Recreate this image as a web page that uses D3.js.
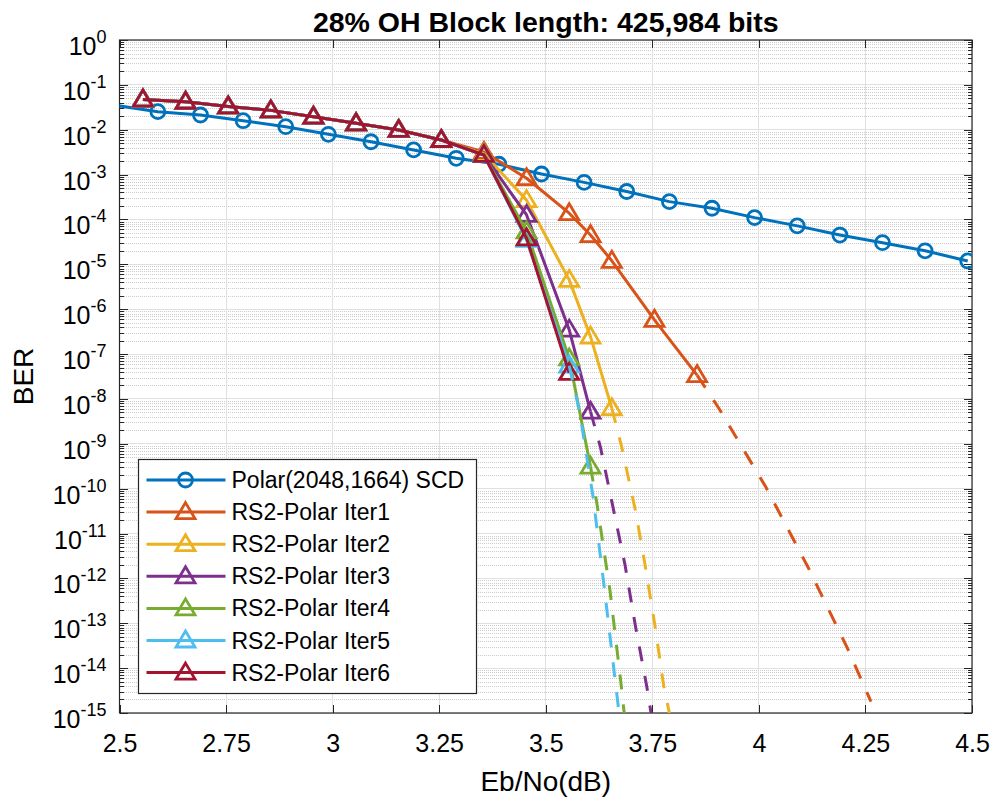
<!DOCTYPE html>
<html>
<meta charset="utf-8">
<style>

body {
  margin: 0;
  background: #fff;
}

svg text {
  font-family: "Liberation Sans", Arial, sans-serif;
  fill: #000;
}

.grid-major line {
  stroke: #e0e0e0;
  stroke-width: 1;
  shape-rendering: crispEdges;
}

.grid-minor line {
  stroke: #cccccc;
  stroke-width: 1;
  stroke-dasharray: 1,1;
  shape-rendering: crispEdges;
}

.axis path.domain {
  display: none;
}

.axis line {
  stroke: #262626;
  shape-rendering: crispEdges;
}

path.line {
  fill: none;
  stroke-width: 3;
  stroke-linejoin: round;
}

path.dash {
  fill: none;
  stroke-width: 3;
  stroke-dasharray: 15,15;
}

.marker {
  fill: none;
  stroke-width: 2.8;
}

</style>
<body>
<div id="chart"></div>

<script src="https://d3js.org/d3.v7.min.js"></script>
<script>

// Polar(2048,1664) SCD
var ebnoPolar = [2.49, 2.59, 2.69, 2.79, 2.89, 2.99, 3.09, 3.19, 3.29, 3.39, 3.49,
    3.59, 3.69, 3.79, 3.89, 3.99, 4.09, 4.19, 4.29, 4.39, 4.49];
var berPolar = [3.5e-2, 2.53e-2, 2.13e-2, 1.59e-2, 1.17e-2, 7.9e-3, 5.4e-3, 3.55e-3, 2.31e-3, 1.7e-3, 1.03e-3,
    6.7e-4, 4.2e-4, 2.5e-4, 1.78e-4, 1.1e-4, 7.2e-5, 4.5e-5, 3.04e-5, 2.0e-5, 1.19e-5];

// RS2-Polar, simulated points (all iterations share the same Eb/No grid)
var ebnoRS = [2.555, 2.655, 2.755, 2.855, 2.955, 3.055, 3.155, 3.255, 3.355,
    3.455, 3.555, 3.605, 3.655, 3.755, 3.855];
var berIter1 = [4.7e-2, 4.2e-2, 3.3e-2, 2.7e-2, 1.95e-2, 1.39e-2, 9.9e-3, 5.9e-3, 3.2e-3,
    8.3e-4, 1.38e-4, 4.5e-5, 1.2e-5, 5.8e-7, 3.4e-8];
var berIter2 = [4.7e-2, 4.2e-2, 3.3e-2, 2.7e-2, 1.95e-2, 1.39e-2, 9.9e-3, 5.9e-3, 2.9e-3,
    2.7e-4, 4.5e-6, 2.45e-7, 6.2e-9];
var berIter3 = [4.7e-2, 4.2e-2, 3.3e-2, 2.7e-2, 1.95e-2, 1.39e-2, 9.9e-3, 5.9e-3, 2.74e-3,
    1.26e-4, 3.5e-7, 5.2e-9];
var berIter4 = [4.7e-2, 4.2e-2, 3.3e-2, 2.7e-2, 1.95e-2, 1.39e-2, 9.9e-3, 5.9e-3, 2.74e-3,
    5.4e-5, 8.0e-8, 3.1e-10];
var berIter5 = [4.7e-2, 4.2e-2, 3.3e-2, 2.7e-2, 1.95e-2, 1.39e-2, 9.9e-3, 5.9e-3, 2.74e-3,
    3.5e-5, 5.5e-8];
var berIter6 = [4.7e-2, 4.2e-2, 3.3e-2, 2.7e-2, 1.95e-2, 1.39e-2, 9.9e-3, 5.9e-3, 2.74e-3,
    3.8e-5, 3.8e-8];

// dashed extrapolations down to 1e-15
var extEbno1 = [3.855, 3.906, 4.016, 4.115, 4.208, 4.263];
var extBer1 = [3.4e-8, 6.2e-9, 1.1e-10, 1.8e-12, 2.75e-14, 1.8e-15];
var extEbno2 = [3.655, 3.678, 3.71, 3.733, 3.756, 3.777, 3.79];
var extBer2 = [6.2e-9, 8.7e-10, 3.4e-11, 2.0e-12, 9.1e-14, 3.9e-15, 1e-15];
var extEbno3 = [3.605, 3.628, 3.659, 3.686, 3.71, 3.737, 3.747];
var extBer3 = [5.2e-9, 8.7e-10, 3.4e-11, 2.0e-12, 9.1e-14, 3.9e-15, 1e-15];
var extEbno4 = [3.605, 3.62, 3.651, 3.676, 3.684];
var extBer4 = [3.1e-10, 4.7e-11, 5.1e-13, 5.0e-15, 1e-15];
var extEbno5 = [3.555, 3.58, 3.611, 3.637, 3.662, 3.672];
var extBer5 = [5.5e-8, 4.8e-9, 6.6e-11, 6.6e-13, 6.3e-15, 1e-15];

var xTicks = [2.5, 2.75, 3, 3.25, 3.5, 3.75, 4, 4.25, 4.5];
var xTickLabels = ["2.5", "2.75", "3", "3.25", "3.5", "3.75", "4", "4.25", "4.5"];
var yExponents = d3.range(-15, 1);

var seriesNames = ["Polar(2048,1664) SCD", "RS2-Polar Iter1", "RS2-Polar Iter2", "RS2-Polar Iter3",
    "RS2-Polar Iter4", "RS2-Polar Iter5", "RS2-Polar Iter6"];
var colors = ["#0072BD", "#D95319", "#EDB120", "#7E2F8E", "#77AC30", "#4DBEEE", "#A2142F"];

var margin = {top: 40, right: 23, bottom: 89, left: 119.5},
    width = 995 - margin.left - margin.right,
    height = 802 - margin.top - margin.bottom;

var x = d3.scaleLinear()
    .domain([2.5, 4.5])
    .range([0, width]);

var y = d3.scaleLog()
    .domain([1e-15, 1])
    .range([height, 0]);

var svg = d3.select("#chart").append("svg")
    .attr("width", width + margin.left + margin.right)
    .attr("height", height + margin.top + margin.bottom)
    .append("g")
    .attr("transform", "translate(" + margin.left + "," + margin.top + ")");

svg.append("clipPath")
    .attr("id", "plotClip")
    .append("rect")
    .attr("width", width)
    .attr("height", height);

var yMajor = yExponents.map(function(e) { return Math.pow(10, e); });
var yMinor = [];
yExponents.slice(0, -1).forEach(function(e) {
    for (var m = 2; m <= 9; m++) yMinor.push(m * Math.pow(10, e));
});

// grid
svg.append("g")
    .attr("class", "grid-minor")
    .selectAll("line")
    .data(yMinor)
    .enter().append("line")
    .attr("x1", 0)
    .attr("x2", width)
    .attr("y1", function(d) { return Math.round(y(d)) + 0.5; })
    .attr("y2", function(d) { return Math.round(y(d)) + 0.5; });

var gMajor = svg.append("g").attr("class", "grid-major");
gMajor.selectAll("line.h")
    .data(yMajor)
    .enter().append("line")
    .attr("class", "h")
    .attr("x1", 0)
    .attr("x2", width)
    .attr("y1", function(d) { return y(d); })
    .attr("y2", function(d) { return y(d); });
gMajor.selectAll("line.v")
    .data(xTicks)
    .enter().append("line")
    .attr("class", "v")
    .attr("x1", function(d) { return x(d); })
    .attr("x2", function(d) { return x(d); })
    .attr("y1", 0)
    .attr("y2", height);

// axes (ticks inward)
svg.append("g")
    .attr("class", "x axis")
    .attr("transform", "translate(0," + height + ")")
    .call(d3.axisBottom(x).tickValues(xTicks).tickSizeInner(-8).tickSizeOuter(0)
        .tickFormat(function(d, i) { return xTickLabels[i]; }))
    .selectAll("text")
    .attr("y", 39)
    .attr("dy", null)
    .style("font-size", "25px");

svg.append("g")
    .attr("class", "x axis")
    .call(d3.axisTop(x).tickValues(xTicks).tickSizeInner(-8).tickSizeOuter(0).tickFormat(""));

svg.append("g")
    .attr("class", "y axis")
    .call(d3.axisLeft(y).tickValues(yMajor).tickSizeInner(-8).tickSizeOuter(0).tickFormat(""));
svg.append("g")
    .attr("class", "y axis")
    .call(d3.axisLeft(y).tickValues(yMinor).tickSizeInner(-4).tickSizeOuter(0).tickFormat(""));
svg.append("g")
    .attr("class", "y axis")
    .attr("transform", "translate(" + width + ",0)")
    .call(d3.axisRight(y).tickValues(yMajor).tickSizeInner(-8).tickSizeOuter(0).tickFormat(""));
svg.append("g")
    .attr("class", "y axis")
    .attr("transform", "translate(" + width + ",0)")
    .call(d3.axisRight(y).tickValues(yMinor).tickSizeInner(-4).tickSizeOuter(0).tickFormat(""));

// y tick labels 10^n
var yLab = svg.append("g").selectAll("text")
    .data(yExponents)
    .enter().append("text")
    .attr("x", -13)
    .attr("y", function(e) { return y(Math.pow(10, e)) + 15; })
    .attr("text-anchor", "end");
yLab.append("tspan")
    .style("font-size", "25px")
    .text("10");
yLab.append("tspan")
    .attr("dy", -12)
    .style("font-size", "18px")
    .text(function(e) { return e === 0 ? "0" : "-" + (-e); });

svg.append("rect")
    .attr("width", width)
    .attr("height", height)
    .attr("fill", "none")
    .attr("stroke", "#262626")
    .attr("stroke-width", 1.2);

// labels
svg.append("text")
    .attr("x", width / 2)
    .attr("y", -8)
    .attr("text-anchor", "middle")
    .style("font-size", "28.5px")
    .style("font-weight", "bold")
    .text("28% OH Block length: 425,984 bits");

svg.append("text")
    .attr("x", width / 2)
    .attr("y", height + 78)
    .attr("text-anchor", "middle")
    .style("font-size", "28px")
    .text("Eb/No(dB)");

svg.append("text")
    .attr("transform", "translate(" + (33 - margin.left) + "," + (height / 2) + ") rotate(-90)")
    .attr("text-anchor", "middle")
    .style("font-size", "28px")
    .text("BER");

// series
var line = d3.line()
    .x(function(d) { return x(d[0]); })
    .y(function(d) { return y(d[1]); });

function zip(xs, ys) {
    return ys.map(function(v, i) { return [xs[i], v]; });
}

var series = [
    {pts: zip(ebnoPolar, berPolar), marker: "o"},
    {pts: zip(ebnoRS, berIter1), marker: "^"},
    {pts: zip(ebnoRS, berIter2), marker: "^"},
    {pts: zip(ebnoRS, berIter3), marker: "^"},
    {pts: zip(ebnoRS, berIter4), marker: "^"},
    {pts: zip(ebnoRS, berIter5), marker: "^"},
    {pts: zip(ebnoRS, berIter6), marker: "^"}
];

var extrap = [
    {pts: zip(extEbno1, extBer1), c: 1},
    {pts: zip(extEbno2, extBer2), c: 2},
    {pts: zip(extEbno3, extBer3), c: 3},
    {pts: zip(extEbno4, extBer4), c: 4},
    {pts: zip(extEbno5, extBer5), c: 5}
];

var tri = "M0,-9.5L9.5,6.5L-9.5,6.5Z";

var plot = svg.append("g").attr("clip-path", "url(#plotClip)");

series.forEach(function(s, i) {
    plot.append("path")
        .datum(s.pts)
        .attr("class", "line")
        .attr("stroke", colors[i])
        .attr("d", line);

    var vis = s.pts.filter(function(d) { return d[0] >= 2.5 && d[0] <= 4.5; });
    if (s.marker === "o") {
        plot.selectAll(null)
            .data(vis)
            .enter().append("circle")
            .attr("class", "marker")
            .attr("stroke", colors[i])
            .attr("cx", function(d) { return x(d[0]); })
            .attr("cy", function(d) { return y(d[1]); })
            .attr("r", 7);
    } else {
        plot.selectAll(null)
            .data(vis)
            .enter().append("path")
            .attr("class", "marker")
            .attr("stroke", colors[i])
            .attr("d", tri)
            .attr("transform", function(d) { return "translate(" + x(d[0]) + "," + y(d[1]) + ")"; });
    }
});

extrap.forEach(function(e) {
    plot.append("path")
        .datum(e.pts)
        .attr("class", "dash")
        .attr("stroke", colors[e.c])
        .attr("d", line);
});

// legend
var legend = svg.append("g")
    .attr("transform", "translate(" + (138.5 - margin.left) + "," + (459.5 - margin.top) + ")");

legend.append("rect")
    .attr("width", 338)
    .attr("height", 234)
    .attr("fill", "#fff")
    .attr("stroke", "#262626")
    .attr("stroke-width", 1.2);

var row = legend.selectAll("g.row")
    .data(seriesNames)
    .enter().append("g")
    .attr("class", "row")
    .attr("transform", function(d, i) { return "translate(0," + (20.5 + i * 32.1) + ")"; });

row.append("line")
    .attr("x1", 8)
    .attr("x2", 87)
    .attr("stroke", function(d, i) { return colors[i]; })
    .attr("stroke-width", 3);

row.each(function(d, i) {
    var g = d3.select(this);
    if (i === 0) {
        g.append("circle").attr("class", "marker").attr("stroke", colors[i])
            .attr("cx", 47).attr("r", 7);
    } else {
        g.append("path").attr("class", "marker").attr("stroke", colors[i])
            .attr("d", tri).attr("transform", "translate(47,0)");
    }
});

row.append("text")
    .attr("x", 93)
    .attr("y", 8)
    .style("font-size", "23px")
    .text(function(d) { return d; });

</script>
</body>
</html>
